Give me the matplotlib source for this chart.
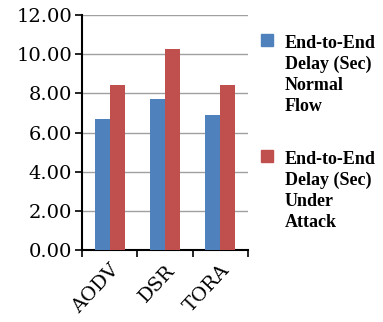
import matplotlib
matplotlib.use("Agg")
import matplotlib.pyplot as plt
from matplotlib.patches import Rectangle
import numpy as np

categories = ["AODV", "DSR", "TORA"]
normal_flow = [6.69, 7.73, 6.89]
under_attack = [8.43, 10.28, 8.43]
series_labels = ["End-to-End\nDelay (Sec)\nNormal\nFlow", "End-to-End\nDelay (Sec)\nUnder\nAttack"]
series_colors = ["#4F81BD", "#C0504D"]
yticks = [0, 2, 4, 6, 8, 10, 12]

plt.rcParams['font.family'] = ['DejaVu Serif', 'DejaVu Sans']

W, H = 383, 322
fig = plt.figure(figsize=(W/100, H/100), dpi=100)
ax = fig.add_axes([82/W, 1-250/H, (248-82)/W, (250-15)/H])

x = np.arange(len(categories))
w = 0.27
b1 = ax.bar(x - w/2, normal_flow, w, color=series_colors[0], zorder=3)
b2 = ax.bar(x + w/2, under_attack, w, color=series_colors[1], zorder=3)

ax.set_ylim(0, 12)
ax.set_xlim(-0.5, 2.5)
ax.set_yticks(yticks)
ax.set_yticklabels([f"{v:.2f}" for v in yticks], fontsize=14)
ax.yaxis.grid(True, color="#A0A0A0", linewidth=1, zorder=0)
ax.set_xticks(x)
ax.set_xticklabels(categories, rotation=47, fontsize=14, ha="right", rotation_mode="anchor")
ax.set_xticks([-0.5, 0.5, 1.5, 2.5], minor=True)
ax.tick_params(axis="x", which="major", length=0, pad=8)
ax.tick_params(axis="x", which="minor", length=5, width=1.2, direction="out", color="black")
ax.tick_params(axis="y", length=5, width=1.2, direction="out", color="black", pad=2)
for s in ["top", "right"]:
    ax.spines[s].set_visible(False)
for s in ["left", "bottom"]:
    ax.spines[s].set_linewidth(1.5)
    ax.spines[s].set_color("black")

# legend (squares aligned with first text line, as in the reference)
entry_tops = [34, 150]
for lab, col, top in zip(series_labels, series_colors, entry_tops):
    fig.patches.append(Rectangle((261/W, 1-(top+12)/H), 12/W, 12/H,
                                 transform=fig.transFigure, color=col))
    fig.text(285/W, 1-(top+1)/H, lab, ha="left", va="top", fontsize=13,
             family=["Liberation Serif"], fontweight="bold", linespacing=1.3)

fig.savefig("out.png", dpi=100)
